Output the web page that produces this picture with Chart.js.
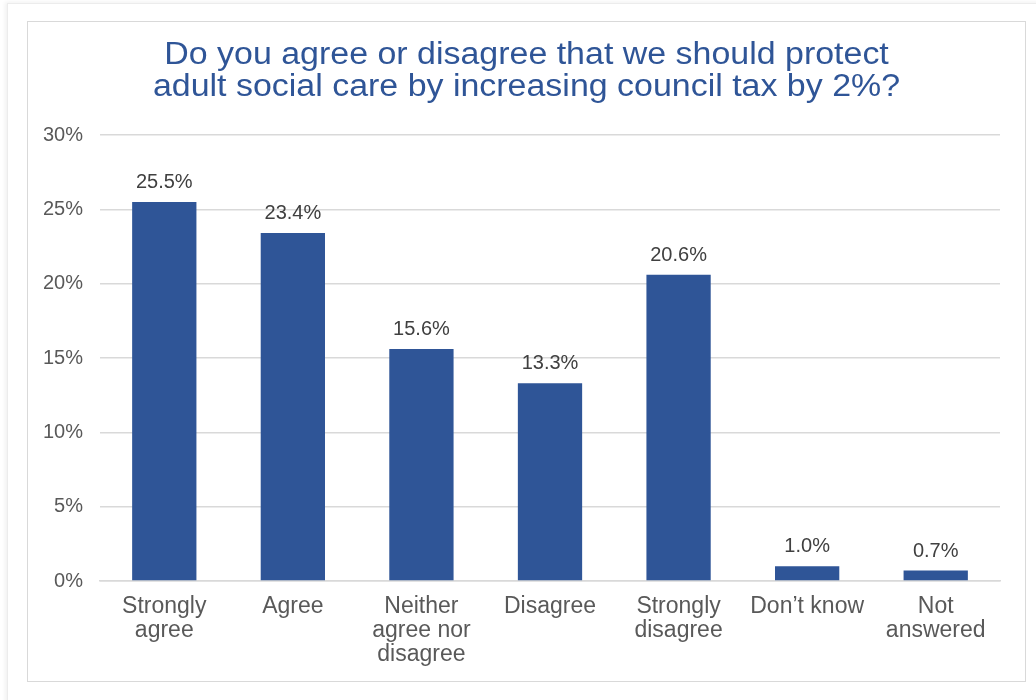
<!DOCTYPE html>
<html>
<head>
<meta charset="utf-8">
<script src="https://cdn.jsdelivr.net/npm/chart.js@4/dist/chart.umd.min.js"></script>
<style>
  body { margin: 0; background: #fff; }
  .sheet {
    position: absolute; left: 7px; top: 3px; width: 1040px; height: 710px;
    border-left: 1px solid #ececec; border-top: 1px solid #ececec;
    box-shadow: -2px -1px 4px rgba(0,0,0,0.06);
    background: #fff;
  }
  .frame {
    position: absolute; left: 27px; top: 21px; width: 997px; height: 659px;
    border: 1px solid #d9d9d9; background: #fff;
  }
  canvas { display: block; }
</style>
</head>
<body>
<div class="sheet"></div>
<div class="frame"><canvas id="chart" width="997" height="659"></canvas></div>
<script>
const categories = [
  ['Strongly', 'agree'],
  ['Agree'],
  ['Neither', 'agree nor', 'disagree'],
  ['Disagree'],
  ['Strongly', 'disagree'],
  ['Don\u2019t know'],
  ['Not', 'answered']
];
const shares = [25.5, 23.4, 15.6, 13.3, 20.6, 1.0, 0.7];
const titleLines = [
  'Do you agree or disagree that we should protect',
  'adult social care by increasing council tax by 2%?'
];

const BLUE = '#2F5597';
const GRID = '#d9d9d9';
const FONT = "'Liberation Sans', Arial, Helvetica, sans-serif";

// prints the value above each bar
const valueLabels = {
  id: 'valueLabels',
  afterDatasetsDraw(chart) {
    const ctx = chart.ctx;
    const meta = chart.getDatasetMeta(0);
    ctx.save();
    ctx.font = '20px ' + FONT;
    ctx.fillStyle = '#404040';
    ctx.textAlign = 'center';
    ctx.textBaseline = 'alphabetic';
    meta.data.forEach((bar, i) => {
      ctx.fillText(shares[i].toFixed(1) + '%', bar.x, bar.y - 14);
    });
    ctx.restore();
  }
};

// two-line heading centred on the whole canvas (slightly widened lettering)
const heading = {
  id: 'heading',
  afterDraw(chart) {
    const ctx = chart.ctx;
    ctx.save();
    ctx.font = '31px ' + FONT;
    ctx.fillStyle = BLUE;
    ctx.textAlign = 'center';
    ctx.textBaseline = 'alphabetic';
    ctx.translate(chart.width / 2, 0);
    ctx.scale(1.095, 1);
    titleLines.forEach((line, i) => ctx.fillText(line, 0, 42 + i * 32));
    ctx.restore();
  }
};

new Chart(document.getElementById('chart'), {
  type: 'bar',
  data: {
    labels: categories,
    datasets: [{
      data: shares,
      backgroundColor: BLUE,
      borderWidth: 0,
      barPercentage: 0.5,
      categoryPercentage: 1.0
    }]
  },
  options: {
    responsive: false,
    animation: false,
    layout: { padding: { top: 113, right: 25, bottom: 0, left: 0 } },
    plugins: {
      legend: { display: false },
      tooltip: { enabled: false },
      title: { display: false }
    },
    scales: {
      x: {
        grid: { display: false, drawTicks: false },
        border: { display: true, color: GRID, width: 1.5 },
        ticks: {
          color: '#595959',
          font: { family: FONT, size: 23, lineHeight: 1.03 },
          padding: 14,
          maxRotation: 0,
          autoSkip: false
        },
        afterFit(scale) { scale.height = 100; }
      },
      y: {
        min: 0,
        max: 30,
        grid: { color: GRID, lineWidth: 1.5, drawTicks: false },
        border: { display: false },
        ticks: {
          stepSize: 5,
          color: '#595959',
          font: { family: FONT, size: 20 },
          padding: 17,
          callback: v => v + '%'
        },
        afterFit(scale) { scale.width = 72; }
      }
    }
  },
  plugins: [valueLabels, heading]
});
</script>
</body>
</html>
